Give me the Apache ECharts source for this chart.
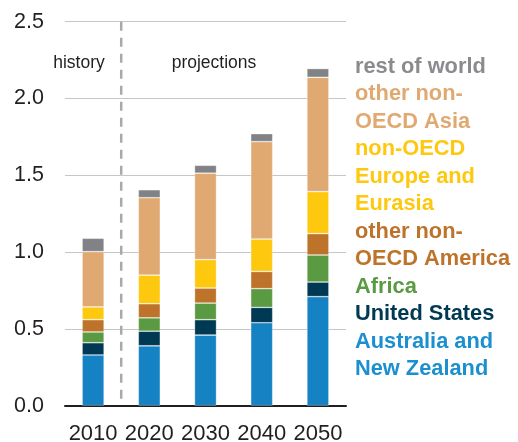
<!DOCTYPE html>
<html>
<head>
<meta charset="utf-8">
<script src="https://cdn.jsdelivr.net/npm/echarts@6/dist/echarts.min.js"></script>
<style>
html,body{margin:0;padding:0;background:#fff;}
#chart{width:518px;height:442px;}
</style>
</head>
<body>
<div id="chart"></div>
<script>
const years = ['2010', '2020', '2030', '2040', '2050'];
const ausNz = [0.33, 0.39, 0.46, 0.54, 0.71];
const unitedStates = [0.08, 0.095, 0.10, 0.10, 0.095];
const africa = [0.07, 0.087, 0.108, 0.122, 0.176];
const otherAmerica = [0.08, 0.092, 0.098, 0.112, 0.139];
const europeEurasia = [0.083, 0.186, 0.185, 0.211, 0.274];
const otherAsia = [0.36, 0.504, 0.563, 0.634, 0.744];
const restOfWorld = [0.087, 0.052, 0.051, 0.052, 0.057];
const yTicks = [0, 0.5, 1.0, 1.5, 2.0, 2.5];

const seriesDefs = [
  {name: 'Australia and New Zealand', label: 'Australia and\nNew Zealand', data: ausNz, color: '#1582c4', text: '#1b8fd0'},
  {name: 'United States', label: 'United States', data: unitedStates, color: '#003953', text: '#003953'},
  {name: 'Africa', label: 'Africa', data: africa, color: '#5a9a42', text: '#5a9a42'},
  {name: 'other non-OECD America', label: 'other non-\nOECD America', data: otherAmerica, color: '#bd732a', text: '#bd732a'},
  {name: 'non-OECD Europe and Eurasia', label: 'non-OECD\nEurope and\nEurasia', data: europeEurasia, color: '#fec80f', text: '#fec80f'},
  {name: 'other non-OECD Asia', label: 'other non-\nOECD Asia', data: otherAsia, color: '#e0a971', text: '#e0a971'},
  {name: 'rest of world', label: 'rest of world', data: restOfWorld, color: '#808285', text: '#8a8b8e'}
];

const chart = echarts.init(document.getElementById('chart'));
const FONT = 'Liberation Sans, Arial, sans-serif';

const option = {
  animation: false,
  grid: {left: 65, right: 172, top: 21.7, bottom: 36.3, containLabel: false, outerBoundsMode: 'none'},
  legend: {
    orient: 'vertical',
    left: 345,
    top: 48,
    itemGap: 0,
    itemWidth: 0,
    itemHeight: 0,
    icon: 'none',
    selectedMode: false,
    data: seriesDefs.slice().reverse().map(s => ({
      name: s.name,
      textStyle: {color: s.text}
    })),
    formatter: function (name) {
      const d = seriesDefs.find(s => s.name === name);
      return d ? d.label : name;
    },
    textStyle: {fontFamily: FONT, fontWeight: 'bold', fontSize: 21.8, lineHeight: 27.5, padding: 0}
  },
  xAxis: {
    type: 'category',
    data: years,
    axisLine: {lineStyle: {color: '#231f20', width: 2}},
    axisTick: {length: 6, lineStyle: {color: '#231f20', width: 1.5}},
    axisLabel: {interval: 0, fontFamily: FONT, fontSize: 22, color: '#231f20', margin: 17}
  },
  yAxis: {
    type: 'value',
    min: 0,
    max: 2.5,
    interval: 0.5,
    axisLine: {show: false},
    axisTick: {show: false},
    axisLabel: {fontFamily: FONT, fontSize: 21.5, color: '#231f20', margin: 21,
      formatter: v => v.toFixed(1)},
    splitLine: {lineStyle: {color: '#c6c6c6', width: 1}}
  },
  series: seriesDefs.map(s => ({
    name: s.name,
    type: 'bar',
    stack: 'total',
    data: s.data,
    barWidth: 22,
    itemStyle: {color: s.color, borderColor: 'rgba(255,255,255,0.45)', borderWidth: 0.7}
  }))
};
chart.setOption(option);

// dashed separator between history and projections
const p2010 = chart.convertToPixel({xAxisIndex: 0, yAxisIndex: 0}, ['2010', 2.5]);
const p2020 = chart.convertToPixel({xAxisIndex: 0, yAxisIndex: 0}, ['2020', 0]);
const sepX = (p2010[0] + p2020[0]) / 2;
chart.setOption({
  graphic: [
    {type: 'line', shape: {x1: sepX, y1: p2010[1], x2: sepX, y2: p2020[1]},
     style: {stroke: '#a7a9ac', lineWidth: 2.5, lineDash: [9, 7]}, z: 1},
    {type: 'text', x: 79, y: 63, style: {text: 'history', fontFamily: FONT, fontSize: 17.5, fill: '#231f20', align: 'center', verticalAlign: 'middle'}},
    {type: 'text', x: 214, y: 63, style: {text: 'projections', fontFamily: FONT, fontSize: 17.5, fill: '#231f20', align: 'center', verticalAlign: 'middle'}}
  ]
});
</script>
</body>
</html>
